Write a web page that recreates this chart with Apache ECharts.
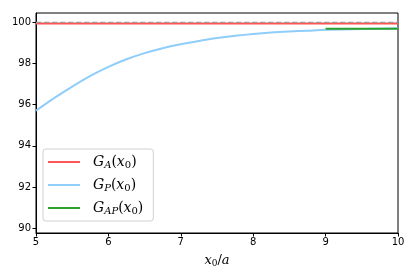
<!DOCTYPE html>
<html>
<head>
<meta charset="utf-8">
<script src="https://cdn.jsdelivr.net/npm/echarts@6/dist/echarts.min.js"></script>
<style>html,body{margin:0;padding:0;background:#fff}#c{width:415px;height:277px}</style>
</head>
<body>
<div id="c"></div>
<script>
const xP = [5.0, 5.25, 5.5, 5.75, 6.0, 6.25, 6.5, 6.75, 7.0, 7.25, 7.5, 7.75, 8.0, 8.25, 8.5, 8.75, 9.0, 9.5, 10.0];
const gP = [95.71, 96.32, 96.88, 97.40, 97.84, 98.21, 98.51, 98.75, 98.94, 99.10, 99.24, 99.35, 99.44, 99.51, 99.56, 99.60, 99.64, 99.68, 99.72];
const xA = [5, 10];
const gA = [99.95, 99.95];
const xAP = [9, 9.5, 10];
const gAP = [99.69, 99.70, 99.70];
const refX = [5, 10];
const refY = [100, 100];
const yTicks = [90, 92, 94, 96, 98, 100];

const pairs = (xs, ys) => xs.map((x, i) => [x, ys[i]]);
const mathRich = {
  it: {fontFamily: 'DejaVu Serif', fontStyle: 'italic', fontSize: 14, color: '#000'},
  rm: {fontFamily: 'DejaVu Serif', fontSize: 14, color: '#000'},
  sub: {fontFamily: 'DejaVu Serif', fontStyle: 'italic', fontSize: 10, color: '#000', verticalAlign: 'bottom', padding: [6, 0, 0, 0]},
  subr: {fontFamily: 'DejaVu Serif', fontSize: 10, color: '#000', verticalAlign: 'bottom', padding: [6, 0, 0, 0]}
};
const legendText = {
  'GA': '{it|G}{sub|A}{rm|(}{it|x}{subr|0}{rm|)}',
  'GP': '{it|G}{sub|P}{rm|(}{it|x}{subr|0}{rm|)}',
  'GAP': '{it|G}{sub|AP}{rm|(}{it|x}{subr|0}{rm|)}'
};

const chart = echarts.init(document.getElementById('c'), null, {renderer: 'canvas'});
chart.setOption({
  animation: false,
  backgroundColor: '#fff',
  grid: {left: 36, right: 17, top: 13, bottom: 44, show: true, borderColor: '#000', borderWidth: 1},
  xAxis: {
    type: 'value', min: 5, max: 10, interval: 1,
    axisLine: {show: true, lineStyle: {color: '#000', width: 1}},
    axisTick: {show: true, length: 3.5, lineStyle: {color: '#000'}},
    axisLabel: {color: '#000', fontSize: 10, fontFamily: 'DejaVu Sans', margin: 4},
    splitLine: {show: false},
    name: '{it|x}{subr|0}{rm|/}{it|a}',
    nameLocation: 'middle', nameGap: 21,
    nameTextStyle: {rich: {
      it: {fontFamily: 'DejaVu Serif', fontStyle: 'italic', fontSize: 13, color: '#000'},
      rm: {fontFamily: 'DejaVu Serif', fontSize: 13, color: '#000'},
      subr: {fontFamily: 'DejaVu Serif', fontSize: 9, color: '#000', verticalAlign: 'bottom', padding: [5, 0, 0, 0]}
    }}
  },
  yAxis: {
    type: 'value', min: 89.76, max: 100.46,
    axisLine: {show: true, lineStyle: {color: '#000', width: 1}},
    axisTick: {show: true, length: 3.5, lineStyle: {color: '#000'}, customValues: yTicks},
    axisLabel: {color: '#000', fontSize: 10, fontFamily: 'DejaVu Sans', margin: 5, customValues: yTicks},
    splitLine: {show: false}
  },
  legend: {
    orient: 'vertical', left: 43, top: 149,
    data: ['GA', 'GP', 'GAP'],
    icon: 'rect', itemWidth: 32, itemHeight: 2, itemGap: 8,
    padding: [6, 10, 5, 5],
    borderColor: '#d0d0d0', borderWidth: 1, borderRadius: 3,
    backgroundColor: 'rgba(255,255,255,0.8)',
    formatter: n => legendText[n],
    textStyle: {rich: mathRich, padding: [0, 0, 0, 8]}
  },
  series: [
    {name: 'GA', type: 'line', data: pairs(xA, gA), showSymbol: false, lineStyle: {color: '#ff5555', width: 2}, itemStyle: {color: '#ff5555'}, z: 3},
    {name: 'ref', type: 'line', data: pairs(refX, refY), showSymbol: false, lineStyle: {color: '#9a9a9a', width: 1.3, type: [5.5, 2.5]}, z: 4, silent: true},
    {name: 'GP', type: 'line', data: pairs(xP, gP), smooth: 0.3, showSymbol: false, lineStyle: {color: '#8fcdfa', width: 2}, itemStyle: {color: '#8fcdfa'}, z: 2},
    {name: 'GAP', type: 'line', data: pairs(xAP, gAP), showSymbol: false, lineStyle: {color: '#2ca02c', width: 2}, itemStyle: {color: '#2ca02c'}, z: 5}
  ]
});
</script>
</body>
</html>
